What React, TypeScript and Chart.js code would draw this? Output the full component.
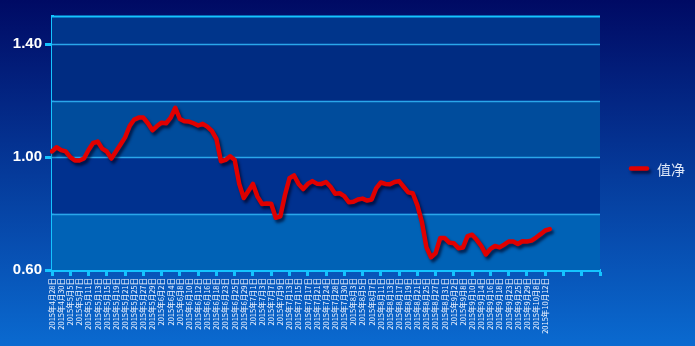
import React, { useEffect, useRef } from 'react';
import { Chart, registerables } from 'chart.js';

Chart.register(...registerables);

// Trading dates (month-day, year 2015)
const tradeDates: string[] = [
  '4-28', '4-29', '4-30',
  '5-4', '5-5', '5-6', '5-7', '5-8',
  '5-11', '5-12', '5-13', '5-14', '5-15',
  '5-18', '5-19', '5-20', '5-21', '5-22',
  '5-25', '5-26', '5-27', '5-28', '5-29',
  '6-1', '6-2', '6-3', '6-4', '6-5',
  '6-8', '6-9', '6-10', '6-11', '6-12',
  '6-15', '6-16', '6-17', '6-18', '6-19',
  '6-23', '6-24', '6-25', '6-26',
  '6-29', '6-30', '7-1', '7-2', '7-3',
  '7-6', '7-7', '7-8', '7-9', '7-10',
  '7-13', '7-14', '7-15', '7-16', '7-17',
  '7-20', '7-21', '7-22', '7-24',
  '7-27', '7-28', '7-29', '7-30', '7-31',
  '8-3', '8-4', '8-5', '8-6', '8-7',
  '8-10', '8-11', '8-12', '8-13', '8-14',
  '8-17', '8-18', '8-19', '8-20', '8-21',
  '8-24', '8-25', '8-26', '8-27', '8-28',
  '8-31', '9-1', '9-2',
  '9-7', '9-8', '9-9', '9-10', '9-11',
  '9-14', '9-15', '9-16', '9-17', '9-18',
  '9-21', '9-23', '9-24', '9-25',
  '9-28', '9-29', '9-30',
  '10-8', '10-9', '10-12', '10-13',
];

// Net value series (净值)
const netValues: number[] = [
  1.02, 1.035, 1.025, 1.02, 1.0, 0.988, 0.988, 0.995, 1.025, 1.05,
  1.055, 1.03, 1.02, 0.995, 1.02, 1.045, 1.07, 1.11, 1.133, 1.14,
  1.14, 1.12, 1.095, 1.11, 1.122, 1.12, 1.14, 1.175, 1.135, 1.127,
  1.126, 1.12, 1.112, 1.118, 1.108, 1.093, 1.065, 0.985, 0.99, 1.003,
  0.99, 0.905, 0.855, 0.88, 0.905, 0.86, 0.834, 0.836, 0.835, 0.785,
  0.79, 0.865, 0.925, 0.935, 0.905, 0.887, 0.905, 0.915, 0.906, 0.905,
  0.912, 0.895, 0.87, 0.872, 0.862, 0.84, 0.842, 0.85, 0.853, 0.846,
  0.85, 0.89, 0.91, 0.905, 0.904, 0.912, 0.915, 0.895, 0.875, 0.872,
  0.83, 0.77, 0.68, 0.645, 0.66, 0.713, 0.713, 0.697, 0.695, 0.677,
  0.68, 0.72, 0.725, 0.707, 0.685, 0.655, 0.675, 0.685, 0.68, 0.69,
  0.701, 0.701, 0.692, 0.702, 0.701, 0.704, 0.715, 0.727, 0.74, 0.745,
];

const emptySlots = 11;
const yGridValues = [0.6, 0.8, 1.0, 1.2, 1.4, 1.5];
const yLabelValues = [0.6, 1.0, 1.4];
const bandColors = ['#0062b6', '#00318f', '#004c9c', '#002c82', '#00358b'];
const seriesName = '值净';

const W = 695;
const H = 346;
const AXIS = '#14c4ff';
const GRID = '#2aa6ea';

export default function App() {
  const ref = useRef<HTMLCanvasElement | null>(null);

  useEffect(() => {
    const canvas = ref.current;
    if (!canvas) return;
    const labels = [
      ...tradeDates.map((d) => {
        const [m, day] = d.split('-');
        return `2015年${m}月${day}日`;
      }),
      ...Array(emptySlots).fill(''),
    ];

    const bandsPlugin = {
      id: 'bands',
      beforeDatasetsDraw(chart: any) {
        const { ctx, chartArea, scales } = chart;
        const y = scales.y;
        ctx.save();
        for (let i = 0; i < yGridValues.length - 1; i++) {
          const y0 = y.getPixelForValue(yGridValues[i]);
          const y1 = y.getPixelForValue(yGridValues[i + 1]);
          ctx.fillStyle = bandColors[i];
          ctx.fillRect(chartArea.left, y1, chartArea.right - chartArea.left, y0 - y1);
        }
        // grid lines on top of bands
        for (let i = 1; i < yGridValues.length; i++) {
          const yy = Math.round(y.getPixelForValue(yGridValues[i])) + 0.5;
          const top = i === yGridValues.length - 1;
          ctx.strokeStyle = top ? AXIS : GRID;
          ctx.lineWidth = top ? 2 : 1.5;
          ctx.beginPath();
          ctx.moveTo(chartArea.left, yy);
          ctx.lineTo(chartArea.right, yy);
          ctx.stroke();
        }
        ctx.restore();
      },
    };

    const shadowPlugin = {
      id: 'lineShadow',
      beforeDatasetDraw(chart: any) {
        const ctx = chart.ctx;
        ctx.save();
        ctx.shadowColor = 'rgba(0,0,30,0.65)';
        ctx.shadowBlur = 3;
        ctx.shadowOffsetX = 2;
        ctx.shadowOffsetY = 3;
      },
      afterDatasetDraw(chart: any) {
        chart.ctx.restore();
      },
    };

    const legendPlugin = {
      id: 'customLegend',
      afterDraw(chart: any) {
        const ctx = chart.ctx;
        ctx.save();
        ctx.shadowColor = 'rgba(0,0,30,0.65)';
        ctx.shadowBlur = 3;
        ctx.shadowOffsetX = 2;
        ctx.shadowOffsetY = 3;
        ctx.strokeStyle = '#e00000';
        ctx.lineWidth = 4.5;
        ctx.lineCap = 'round';
        ctx.beginPath();
        ctx.moveTo(631, 168.5);
        ctx.lineTo(647, 168.5);
        ctx.stroke();
        ctx.restore();
        ctx.save();
        ctx.fillStyle = '#dfe8f8';
        ctx.font = '14px "Noto Sans CJK SC"';
        ctx.textBaseline = 'middle';
        ctx.textAlign = 'left';
        ctx.fillText(seriesName, 657, 170);
        ctx.restore();
      },
    };

    const chart = new Chart(canvas, {
      type: 'line',
      data: {
        labels,
        datasets: [
          {
            label: seriesName,
            data: netValues,
            borderColor: '#e00000',
            borderWidth: 4.5,
            pointRadius: 0,
            tension: 0,
            fill: false,
            borderJoinStyle: 'round',
            borderCapStyle: 'round',
          },
        ],
      },
      options: {
        responsive: false,
        animation: false,
        devicePixelRatio: 1,
        layout: { padding: { left: 0, top: 16, right: 95, bottom: 0 } },
        plugins: { legend: { display: false }, tooltip: { enabled: false } },
        scales: {
          x: {
            type: 'category',
            offset: false,
            grid: {
              drawOnChartArea: false,
              drawTicks: true,
              tickLength: 6,
              tickWidth: 3,
              tickColor: (c: any) => (c.index % 4 === 0 ? AXIS : 'rgba(0,0,0,0)'),
            },
            border: { color: AXIS, width: 3 },
            ticks: {
              autoSkip: false,
              minRotation: 90,
              maxRotation: 90,
              padding: 2,
              color: '#f2f6ff',
              font: { size: 7.5, family: '"Noto Sans CJK SC"' },
              callback: (_v: any, i: number) => (i % 2 === 0 ? labels[i] : ''),
            },
            afterFit: (s: any) => {
              s.height = 76;
            },
          },
          y: {
            min: 0.6,
            max: 1.5,
            afterBuildTicks: (s: any) => {
              s.ticks = yGridValues.map((v) => ({ value: v }));
            },
            grid: {
              drawOnChartArea: false,
              tickLength: 7,
              tickWidth: 3,
              tickColor: (c: any) =>
                c.tick && yLabelValues.some((v) => Math.abs(v - c.tick.value) < 1e-6)
                  ? AXIS
                  : 'rgba(0,0,0,0)',
            },
            border: { color: AXIS, width: 3 },
            ticks: {
              padding: 3,
              color: '#ffffff',
              font: { size: 15, weight: 'bold', family: '"Liberation Sans", Arial' },
              callback: (v: any) =>
                yLabelValues.some((t) => Math.abs(t - Number(v)) < 1e-6) ? Number(v).toFixed(2) : '',
            },
            afterFit: (s: any) => {
              s.width = 52;
            },
          },
        },
      },
      plugins: [bandsPlugin, shadowPlugin, legendPlugin],
    });
    return () => chart.destroy();
  }, []);

  return (
    <div
      style={{
        position: 'fixed',
        left: 0,
        top: 0,
        width: W,
        height: H,
        background: 'linear-gradient(to bottom, #000a64 0%, #053a9a 50%, #0a6ad0 100%)',
      }}
    >
      <canvas ref={ref} width={W} height={H} style={{ display: 'block', width: W, height: H }} />
    </div>
  );
}
